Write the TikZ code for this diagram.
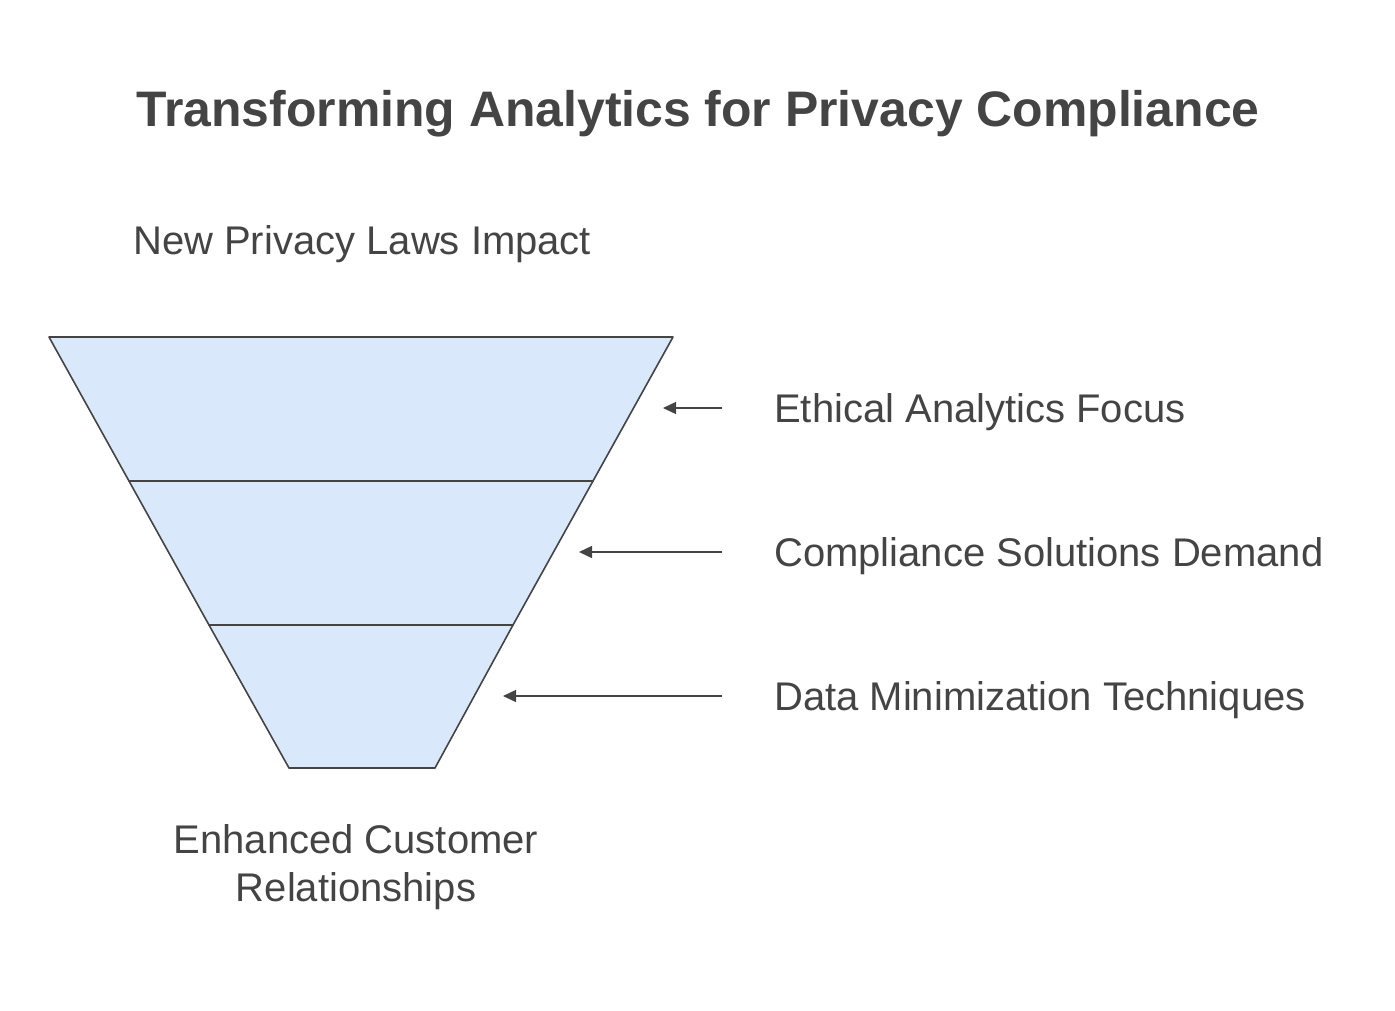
\documentclass[tikz,border=0pt]{standalone}
\usepackage{fontspec}
\setmainfont{Liberation Sans}
\usetikzlibrary{arrows.meta}
\definecolor{ink}{HTML}{444444}
\definecolor{layerfill}{HTML}{DAE8FC}
\tikzset{
  layer/.style={draw=ink, fill=layerfill, line width=1.6pt, line join=round},
  lbl/.style={text=ink, font=\fontsize{40}{48}\selectfont, inner sep=0pt},
  pointer/.style={draw=ink, line width=1.4pt, -{Triangle[length=13pt,width=12pt]}},
}
\begin{document}
\begin{tikzpicture}[x=1pt,y=-1pt]
\useasboundingbox (0,0) rectangle (1395,1010);
% funnel layers
\draw[layer] (49,337) -- (673,337) -- (593,481) -- (129,481) -- cycle;
\draw[layer] (129,481) -- (593,481) -- (513,625) -- (209,625) -- cycle;
\draw[layer] (209,625) -- (513,625) -- (435,768) -- (289,768) -- cycle;
% title
\node (title) [text=ink, font=\fontsize{49.9}{58}\selectfont\bfseries, inner sep=0pt, anchor=base] at (698,126) {Transforming Analytics for Privacy Compliance};
\node (top) [lbl, anchor=base west] at (133,254) {New Privacy Laws Impact};
\node (bottom) [lbl, align=center, anchor=base] at (356,901) {Enhanced Customer\\Relationships};
% right labels
\node (l1) [lbl, anchor=base west] at (774,422) {Ethical Analytics Focus};
\node (l2) [lbl, anchor=base west] at (774,566) {Compliance Solutions Demand};
\node (l3) [lbl, anchor=base west] at (774,710) {Data Minimization Techniques};
\coordinate (s1) at (722,408);
\coordinate (s2) at (722,552);
\coordinate (s3) at (722,696);
\coordinate (e1) at (663,408);
\coordinate (e2) at (579,552);
\coordinate (e3) at (503,696);
\draw[pointer] (s1) -- (e1);
\draw[pointer] (s2) -- (e2);
\draw[pointer] (s3) -- (e3);
\end{tikzpicture}
\end{document}
